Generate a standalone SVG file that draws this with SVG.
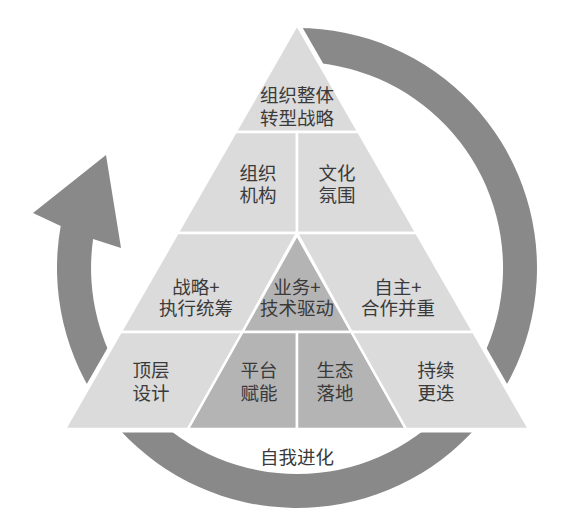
<svg xmlns="http://www.w3.org/2000/svg" width="565" height="527" viewBox="0 0 565 527">
  <style>
    .light { fill: #dbdbdb; stroke: #ffffff; stroke-width: 2.5; stroke-linejoin: miter; }
    .dark { fill: #b4b4b4; stroke: #ffffff; stroke-width: 2.5; stroke-linejoin: miter; }
    .ring { fill: #898989; }
    text { font-family: "Noto Sans CJK SC", "Noto Sans CJK JP", sans-serif; font-size: 18.5px; fill: #3a3a3a; text-anchor: middle; }
  </style>
  <rect width="565" height="527" fill="#ffffff"/>
  <g id="connectors">
    <path class="ring" d="M 297,28 A 240,240 0 1,1 60.7,226 L 33,213 L 106,155 L 121,248 L 93.1,239 A 206,206 0 1,0 297,62 Z"/>
  </g>
  <g id="pyramid-outline">
    <polygon points="297,25 529,429 65,429" fill="#ffffff" stroke="#ffffff" stroke-width="7" stroke-linejoin="round"/>
  </g>
  <g id="node-top">
    <polygon class="light" points="297,25 358.4,132 235.6,132"/>
    <text x="297" y="102">组织整体</text>
    <text x="297" y="125">转型战略</text>
  </g>
  <g id="node-org">
    <polygon class="light" points="235.6,132 297,132 297,233 177.6,233"/>
    <text x="258" y="180">组织</text>
    <text x="258" y="202">机构</text>
  </g>
  <g id="node-culture">
    <polygon class="light" points="297,132 358.4,132 416.4,233 297,233"/>
    <text x="337" y="180">文化</text>
    <text x="337" y="202">氛围</text>
  </g>
  <g id="node-strategy">
    <polygon class="light" points="177.6,233 297,233 242.5,332 120.7,332"/>
    <text x="196" y="294">战略+</text>
    <text x="196" y="315">执行统筹</text>
  </g>
  <g id="node-business">
    <polygon class="dark" points="297,235 351.5,332 242.5,332"/>
    <text x="297" y="294">业务+</text>
    <text x="297" y="315">技术驱动</text>
  </g>
  <g id="node-autonomy">
    <polygon class="light" points="297,233 416.4,233 473.3,332 351.5,332"/>
    <text x="398" y="294">自主+</text>
    <text x="398" y="315">合作并重</text>
  </g>
  <g id="node-toplevel">
    <polygon class="light" points="120.7,332 242.5,332 188,429 65,429"/>
    <text x="151" y="377">顶层</text>
    <text x="151" y="400">设计</text>
  </g>
  <g id="node-platform">
    <polygon class="dark" points="242.5,332 297,332 297,429 188,429"/>
    <text x="259" y="377">平台</text>
    <text x="259" y="400">赋能</text>
  </g>
  <g id="node-ecosystem">
    <polygon class="dark" points="297,332 351.5,332 406,429 297,429"/>
    <text x="335" y="377">生态</text>
    <text x="335" y="400">落地</text>
  </g>
  <g id="node-iterate">
    <polygon class="light" points="351.5,332 473.3,332 529,429 406,429"/>
    <text x="436" y="377">持续</text>
    <text x="436" y="400">更迭</text>
  </g>
  <g id="label-evolve">
    <text x="297" y="464">自我进化</text>
  </g>
</svg>
